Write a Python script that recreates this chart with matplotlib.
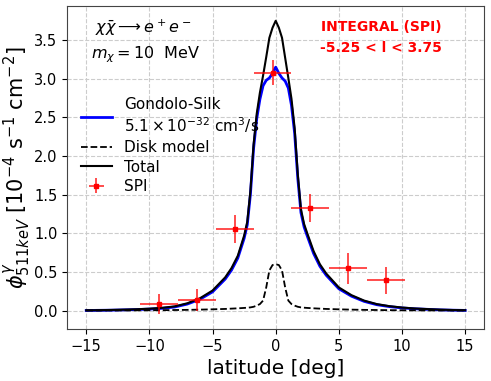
import numpy as np
import matplotlib
matplotlib.use("Agg")
import matplotlib.pyplot as plt

# latitude grid of the model curves (deg)
lat = [-15, -14, -13, -12, -11, -10, -9, -8, -7, -6, -5, -4, -3.5, -3, -2.5, -2.25,
       -2, -1.75, -1.5, -1.25, -1, -0.75, -0.5, -0.25, 0, 0.25, 0.5, 0.75, 1, 1.25,
       1.5, 1.75, 2, 2.25, 2.5, 3, 3.5, 4, 5, 6, 7, 8, 9, 10, 11, 12, 13, 14, 15]

# Gondolo-Silk dark matter profile
gs_flux = [0.002, 0.004, 0.006, 0.010, 0.014, 0.020, 0.030, 0.047, 0.085, 0.147,
           0.243, 0.408, 0.524, 0.68, 0.935, 1.112, 1.508, 2.10, 2.485, 2.735, 2.91,
           2.98, 3.01, 3.07, 3.15, 3.07, 3.01, 2.97, 2.88, 2.655, 2.295, 1.71, 1.268,
           1.082, 0.965, 0.74, 0.574, 0.458, 0.283, 0.187, 0.12, 0.077, 0.052, 0.035,
           0.024, 0.017, 0.010, 0.006, 0.003]

# disk model
disk_flux = [0.002, 0.002, 0.003, 0.003, 0.004, 0.005, 0.006, 0.008, 0.010, 0.013,
             0.017, 0.022, 0.026, 0.030, 0.035, 0.038, 0.042, 0.050, 0.065, 0.085,
             0.13, 0.30, 0.52, 0.59, 0.60, 0.59, 0.52, 0.30, 0.13, 0.085, 0.065, 0.050,
             0.042, 0.038, 0.035, 0.030, 0.026, 0.022, 0.017, 0.013, 0.010, 0.008,
             0.006, 0.005, 0.004, 0.003, 0.003, 0.002, 0.002]

# SPI data points
spi_lat = [-9.25, -6.25, -3.25, -0.25, 2.75, 5.75, 8.75]
spi_flux = [0.087, 0.14, 1.06, 3.08, 1.33, 0.55, 0.39]
spi_xerr = [1.5, 1.5, 1.5, 1.5, 1.5, 1.5, 1.5]
spi_yerr = [0.13, 0.145, 0.18, 0.165, 0.18, 0.2, 0.17]

lat = np.array(lat)
total_flux = np.array(gs_flux) + np.array(disk_flux)  # total = DM + disk

fig = plt.figure(figsize=(4.91, 3.81), dpi=100)
ax = fig.add_axes([0.137, 0.137, 0.849, 0.847])

ax.plot(lat, gs_flux, color='blue', lw=2.0,
        label='Gondolo-Silk\n$5.1\\times10^{-32}$ cm$^3$/s')
ax.plot(lat, disk_flux, color='black', ls='--', lw=1.3, label='Disk model')
ax.plot(lat, total_flux, color='black', lw=1.5, label='Total')
ax.errorbar(spi_lat, spi_flux, xerr=spi_xerr, yerr=spi_yerr, fmt='s', ms=2.5,
            color='red', ecolor=(1, 0, 0, 0.7), elinewidth=1.4, label='SPI')

ax.set_xlim(-16.5, 16.5)
ax.set_ylim(-0.235, 3.94)
ax.set_xticks([-15, -10, -5, 0, 5, 10, 15])
ax.tick_params(labelsize=10.5)
ax.grid(True, ls='--', color='#cccccc', lw=0.8)
for s in ax.spines.values():
    s.set_color('#444444')

ax.set_xlabel('latitude [deg]', fontsize=14.5)
ax.set_ylabel('$\\phi^{\\gamma}_{511keV}$ [$10^{-4}$ s$^{-1}$ cm$^{-2}$]', fontsize=15,
              labelpad=1)

# annotations
ax.text(0.066, 0.932, '$\\chi\\bar{\\chi}\\longrightarrow e^+e^-$', transform=ax.transAxes,
        fontsize=11.5, va='center')
ax.text(0.058, 0.849, '$m_\\chi = 10$  MeV', transform=ax.transAxes,
        fontsize=11.5, va='center')
ax.text(0.753, 0.935, 'INTEGRAL (SPI)', transform=ax.transAxes, color='red',
        fontsize=10, fontweight='bold', ha='center', va='center')
ax.text(0.753, 0.869, '-5.25 < l < 3.75', transform=ax.transAxes, color='red',
        fontsize=10, fontweight='bold', ha='center', va='center')

ax.legend(loc='upper left', bbox_to_anchor=(0.0, 0.76), frameon=False, fontsize=11,
          handlelength=2.0, labelspacing=0.3)

fig.savefig('out.png', dpi=100)
